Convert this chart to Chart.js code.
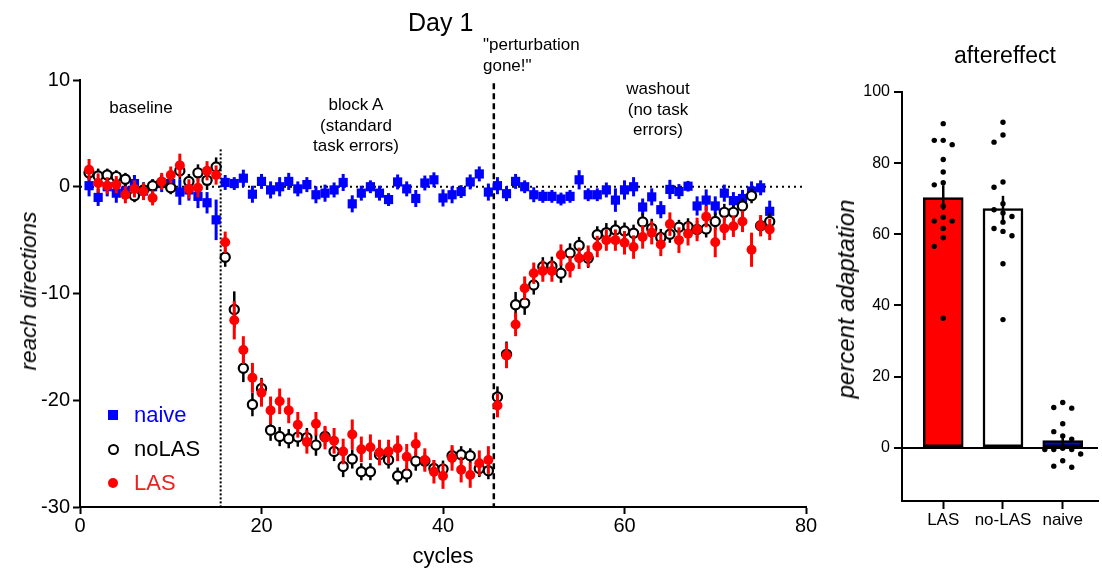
<!DOCTYPE html>
<html>
<head>
<meta charset="utf-8">
<script src="https://cdn.jsdelivr.net/npm/chart.js@4.4.1/dist/chart.umd.min.js"></script>
<style>
  html, body { margin: 0; padding: 0; background: #fff; }
  body { width: 1102px; height: 571px; position: relative; overflow: hidden;
         font-family: "Liberation Sans", Arial, sans-serif; color: #000; }
  canvas { position: absolute; top: 0; }
  #left { left: 0; }
  #right { left: 840px; }
  .t { position: absolute; white-space: nowrap; }
  .note { font-size: 17px; line-height: 20.5px; text-align: center; transform: translateX(-50%); }
  .ytitle { font-size: 22.5px; font-style: italic; transform: translate(-50%, -50%) rotate(-90deg); }
  .leg { font-size: 22px; transform: translateY(-50%); }
  .mk { position: absolute; box-sizing: border-box; }
</style>
</head>
<body>
<canvas id="left" width="830" height="571"></canvas>
<canvas id="right" width="262" height="571"></canvas>

<div class="t" style="left:408px; top:8px; font-size:25px;">Day 1</div>
<div class="t note" style="left:141px; top:98px;">baseline</div>
<div class="t note" style="left:356px; top:95px;">block A<br>(standard<br>task errors)</div>
<div class="t note" style="left:483px; top:35px; text-align:left; transform:none;">"perturbation<br>gone!"</div>
<div class="t note" style="left:658px; top:79px;">washout<br>(no task<br>errors)</div>

<div class="mk" style="left:108px; top:410px; width:10px; height:10px; background:#0000ff;"></div>
<div class="t leg" style="left:134px; top:415px; color:#0000ff;">naive</div>
<div class="mk" style="left:108px; top:444px; width:11px; height:11px; border:2.2px solid #000; border-radius:50%;"></div>
<div class="t leg" style="left:134px; top:449px;">noLAS</div>
<div class="mk" style="left:108px; top:478px; width:10px; height:10px; background:#ff0000; border-radius:50%;"></div>
<div class="t leg" style="left:134px; top:483px; color:#f02020;">LAS</div>

<div class="t ytitle" style="left:29px; top:291px;">reach directions</div>
<div class="t" style="left:443px; top:556px; font-size:22px; transform:translate(-50%,-50%);">cycles</div>
<div class="t" style="left:1005px; top:55px; font-size:23px; transform:translate(-50%,-50%);">aftereffect</div>
<div class="t ytitle" style="left:846px; top:299px; font-size:24px;">percent adaptation</div>

<script>
// ---- left panel: reach direction per cycle (mean ± sem) ----
const CYCLES = [
   1,  2,  3,  4,  5,  6,  7,  8,  9, 10, 11, 12, 13, 14, 15,
  16, 17, 18, 19, 20, 21, 22, 23, 24, 25, 26, 27, 28, 29, 30,
  31, 32, 33, 34, 35, 36, 37, 38, 39, 40, 41, 42, 43, 44, 45,
  46, 47, 48, 49, 50, 51, 52, 53, 54, 55, 56, 57, 58, 59, 60,
  61, 62, 63, 64, 65, 66, 67, 68, 69, 70, 71, 72, 73, 74, 75, 76];

const NAIVE = [
  0.1, -1.0, 0.0, -0.6, -0.4, 0.3, -0.4, 0.0, 0.3, 0.3, -0.5, -0.3, -0.9, -1.5, -3.1,
  0.4, 0.3, 0.8, -0.7, 0.5, -0.3, 0.0, 0.5, -0.2, 0.2, -0.75, -0.6, -0.3, 0.4, -1.6,
  -0.6, 0.0, -0.6, -1.2, 0.45, -0.2, -1.1, 0.35, 0.65, -1.05, -0.75, -0.45, 0.45, 1.2, -0.5,
  0.1, -0.65, 0.5, 0.0, -0.75, -0.9, -0.9, -1.15, -0.9, 0.65, -0.75, -0.75, -0.3, -1.25, -0.3,
  0.0, -1.9, -0.95, -2.15, -0.25, -0.45, 0.05, -1.8, -1.25, -1.8, -0.6, -1.3, -1.1, -0.4, -0.1, -2.3];
const NAIVE_ERR = [
  1.0, 0.8, 0.9, 0.9, 0.8, 0.8, 0.8, 0.7, 0.8, 0.8, 1.2, 1.0, 1.1, 1.0, 1.9,
  0.7, 0.6, 0.8, 0.8, 0.7, 0.8, 0.9, 0.8, 0.7, 0.7, 0.8, 0.8, 0.7, 0.8, 0.8,
  0.7, 0.6, 0.7, 0.6, 0.7, 0.7, 0.8, 0.7, 0.7, 0.8, 0.8, 0.6, 0.7, 0.7, 0.8,
  0.8, 0.7, 0.7, 0.6, 0.7, 0.6, 0.6, 0.6, 0.6, 0.9, 0.6, 0.6, 0.7, 1.1, 0.9,
  0.9, 0.8, 0.8, 0.8, 0.9, 0.7, 0.5, 0.9, 1.0, 0.9, 0.8, 0.8, 0.8, 0.9, 0.7, 1.0];

const NOLAS = [
  1.3, 1.0, 1.1, 0.95, 0.7, -0.85, -0.3, 0.1, 0.4, -0.1, 1.5, 0.5, 1.3, 0.6, 1.85,
  -6.6, -11.5, -17.0, -20.4, -18.9, -22.8, -23.4, -23.6, -23.45, -23.5, -24.2, -23.4, -24.8, -26.2, -25.5,
  -26.7, -26.7, -25.1, -25.6, -27.1, -26.9, -25.7, -25.7, -26.4, -26.45, -25.2, -25.1, -25.2, -26.4, -26.6,
  -19.7, -15.7, -11.05, -10.9, -9.2, -7.5, -7.45, -8.1, -6.2, -5.5, -6.7, -4.5, -4.3, -4.05, -4.15,
  -4.35, -3.3, -3.9, -4.75, -4.45, -3.8, -3.75, -4.0, -3.95, -3.25, -2.4, -2.4, -1.8, -0.85, -3.65, -3.25];
const NOLAS_ERR = [
  0.7, 0.7, 0.6, 0.6, 0.6, 0.6, 0.7, 0.6, 0.7, 0.6, 0.8, 0.7, 0.8, 0.9, 0.9,
  0.9, 1.7, 1.3, 1.1, 1.0, 1.0, 0.9, 0.9, 0.9, 0.9, 1.0, 0.9, 0.9, 1.0, 0.9,
  0.8, 0.8, 0.9, 0.8, 0.8, 0.8, 0.9, 0.8, 0.8, 0.8, 0.8, 0.8, 0.7, 0.8, 0.8,
  1.0, 1.2, 1.2, 1.1, 0.9, 0.9, 0.9, 0.9, 0.9, 0.8, 0.9, 0.8, 0.9, 0.9, 0.8,
  0.8, 0.8, 0.9, 0.8, 0.8, 0.7, 0.8, 0.8, 0.8, 0.8, 0.8, 0.7, 0.7, 0.7, 0.8, 0.8];

const LAS = [
  1.6, 0.35, 0.1, 0.2, -0.75, -0.2, -0.45, -1.05, 0.5, 1.1, 2.0, -0.2, -0.1, 1.5, 1.1,
  -5.2, -12.5, -15.3, -17.9, -19.3, -20.95, -20.1, -20.95, -22.3, -23.9, -22.2, -23.5, -23.8, -24.8, -23.2,
  -24.6, -24.4, -24.9, -24.8, -24.5, -25.3, -24.1, -25.6, -26.7, -27.1, -25.4, -26.5, -27.0, -25.9, -25.6,
  -20.5, -15.8, -12.9, -9.5, -8.1, -7.9, -7.9, -6.4, -7.5, -6.7, -6.5, -5.6, -5.0, -5.0, -5.25,
  -5.65, -4.7, -4.3, -5.4, -3.5, -5.0, -4.4, -4.0, -2.8, -5.2, -3.9, -3.7, -3.25, -5.9, -3.65, -4.0];
const LAS_ERR = [
  1.0, 0.9, 0.8, 0.8, 0.8, 0.8, 0.8, 0.7, 0.8, 0.8, 1.1, 0.9, 0.9, 0.9, 0.9,
  1.0, 1.8, 1.3, 1.4, 1.3, 1.3, 1.2, 1.2, 1.2, 1.1, 1.1, 1.1, 1.2, 1.2, 1.4,
  1.2, 1.2, 1.2, 1.1, 1.2, 1.2, 1.1, 1.1, 1.1, 1.2, 1.2, 1.2, 1.2, 1.2, 1.3,
  1.1, 1.2, 1.1, 1.1, 1.0, 1.0, 1.0, 1.0, 1.0, 1.0, 1.0, 1.0, 1.0, 1.0, 1.1,
  1.1, 1.1, 1.1, 1.1, 1.1, 1.2, 1.1, 1.1, 1.0, 1.4, 1.1, 1.0, 1.0, 1.6, 1.0, 1.0];

const X_TICKS = [0, 20, 40, 60, 80];
const Y_TICKS = [-30, -20, -10, 0, 10];
const BLOCK_A_START = 15.5;   // dotted line
const WASHOUT_START = 45.6;   // dashed line

// ---- right panel: aftereffect ----
const GROUPS = ['LAS', 'no-LAS', 'naive'];
const MEANS = [70.3, 67.2, 2.0];
const SEMS = [3.5, 3.6, 1.5];
const LAS_SUBJ = [91.1, 86.4, 85.2, 86.4, 81.0, 77.5, 74.5, 73.9, 67.9, 64.8, 63.7, 63.7, 61.6, 59.0, 56.6, 36.4];
const NOLAS_SUBJ = [91.5, 87.9, 85.9, 74.7, 73.2, 68.6, 66.9, 66.0, 65.0, 63.4, 61.6, 60.8, 59.6, 51.7, 36.0];
const NAIVE_SUBJ = [12.7, 11.1, 11.3, 6.7, 4.5, 3.3, 2.4, -0.2, -0.5, -0.5, -0.5, -1.8, -3.7, -5.2, -5.5];
const Y_TICKS_R = [0, 20, 40, 60, 80, 100];

const FONT = '"Liberation Sans", Arial, sans-serif';
const BAR_FILLS = ['#ff0000', '#ffffff', '#0000ff'];

const pts = (vals) => vals.map((v, i) => ({ x: CYCLES[i], y: v }));

// vertical error bars, drawn with the dataset's own scales
const errorBars = {
  id: 'errorBars',
  draw(chart, idx) {
    const ds = chart.data.datasets[idx];
    if (!ds.errors) return;
    const xs = chart.scales.x, ys = chart.scales.y, ctx = chart.ctx;
    ctx.save();
    ctx.strokeStyle = ds.errorColor;
    ctx.lineWidth = ds.errorWidth;
    ds.data.forEach((p, i) => {
      const e = ds.errors[i];
      const px = xs.getPixelForValue(p.x);
      ctx.beginPath();
      ctx.moveTo(px, ys.getPixelForValue(p.y - e));
      ctx.lineTo(px, ys.getPixelForValue(p.y + e));
      ctx.stroke();
    });
    ctx.restore();
  },
  beforeDatasetDraw(chart, args) {
    if (!chart.data.datasets[args.index].errorsOnTop) this.draw(chart, args.index);
  },
  afterDatasetDraw(chart, args) {
    if (chart.data.datasets[args.index].errorsOnTop) this.draw(chart, args.index);
  },
};

// zero line + phase boundaries
const refLines = {
  id: 'refLines',
  beforeDatasetsDraw(chart) {
    const { ctx, scales: { x, y }, chartArea: a } = chart;
    ctx.save();
    ctx.strokeStyle = '#000';
    ctx.lineWidth = 2;
    ctx.setLineDash([2, 4]);
    ctx.beginPath();
    ctx.moveTo(a.left, y.getPixelForValue(0));
    ctx.lineTo(a.right, y.getPixelForValue(0));
    ctx.stroke();

    ctx.setLineDash([2, 2]);
    ctx.beginPath();
    ctx.moveTo(x.getPixelForValue(BLOCK_A_START), y.getPixelForValue(3.5));
    ctx.lineTo(x.getPixelForValue(BLOCK_A_START), a.bottom);
    ctx.stroke();

    ctx.lineWidth = 2.5;
    ctx.setLineDash([6, 4]);
    ctx.beginPath();
    ctx.moveTo(x.getPixelForValue(WASHOUT_START), y.getPixelForValue(9.7));
    ctx.lineTo(x.getPixelForValue(WASHOUT_START), a.bottom);
    ctx.stroke();
    ctx.restore();
  },
};

// spread subject dots sideways when they would overlap
function swarm(values, center) {
  const placed = [];
  const STEP = 0.15, GAP = 2.5;
  return values.slice().sort((a, b) => b - a).map((v) => {
    for (const k of [0, -1, 1, -2, 2, -3, 3]) {
      const off = k * STEP;
      if (!placed.some((p) => p.off === off && Math.abs(p.v - v) < GAP)) {
        placed.push({ v, off });
        return { x: center + off, y: v };
      }
    }
    return { x: center, y: v };
  });
}

const axisTicks = (size, pad) => ({ color: '#000', font: { size, family: FONT }, padding: pad, maxRotation: 0 });
const axisGrid = (len) => ({ drawOnChartArea: false, offset: false, color: '#000', tickColor: '#000', tickWidth: 2, tickLength: len });

new Chart(document.getElementById('left'), {
  type: 'scatter',
  data: {
    datasets: [
      { label: 'LAS', data: pts(LAS), errors: LAS_ERR, errorColor: '#ff0000', errorWidth: 3,
        pointStyle: 'circle', pointRadius: 5, pointBackgroundColor: '#ff0000', pointBorderWidth: 0 },
      { label: 'noLAS', data: pts(NOLAS), errors: NOLAS_ERR, errorColor: '#000', errorWidth: 2.5,
        pointStyle: 'circle', pointRadius: 4.6, pointBackgroundColor: '#fff',
        pointBorderColor: '#000', pointBorderWidth: 2.2 },
      { label: 'naive', data: pts(NAIVE), errors: NAIVE_ERR, errorColor: '#0000ff', errorWidth: 3,
        pointStyle: 'rect', pointRadius: 6.5, pointBackgroundColor: '#0000ff', pointBorderWidth: 0 },
    ],
  },
  options: {
    responsive: false,
    animation: false,
    layout: { padding: { left: 0, top: 80, right: 24, bottom: 0 } },
    plugins: { legend: { display: false }, tooltip: { enabled: false } },
    scales: {
      x: {
        type: 'linear', min: 0, max: 80,
        afterBuildTicks: (s) => { s.ticks = X_TICKS.map((v) => ({ value: v })); },
        afterFit: (s) => { s.height = 64; },
        grid: axisGrid(7),
        border: { color: '#000', width: 2 },
        ticks: axisTicks(20, 0),
      },
      y: {
        type: 'linear', min: -30, max: 10,
        afterBuildTicks: (s) => { s.ticks = Y_TICKS.map((v) => ({ value: v })); },
        afterFit: (s) => { s.width = 80; },
        grid: axisGrid(7),
        border: { color: '#000', width: 2 },
        ticks: axisTicks(20, 3),
      },
    },
  },
  plugins: [errorBars, refLines],
});

new Chart(document.getElementById('right'), {
  type: 'bar',
  data: {
    datasets: [
      { type: 'scatter', label: 'subjects',
        data: [].concat(swarm(LAS_SUBJ, 1), swarm(NOLAS_SUBJ, 2), swarm(NAIVE_SUBJ, 3)),
        pointRadius: 2.7, pointBackgroundColor: '#000', pointBorderWidth: 0 },
      { type: 'bar', label: 'mean',
        data: GROUPS.map((g, i) => ({ x: i + 1, y: MEANS[i] })),
        errors: SEMS, errorColor: '#000', errorWidth: 2.5, errorsOnTop: true,
        backgroundColor: BAR_FILLS, borderColor: '#000', borderWidth: 2.5,
        borderSkipped: false, barThickness: 40 },
    ],
  },
  options: {
    responsive: false,
    animation: false,
    layout: { padding: { left: 0, top: 92, right: 0, bottom: 0 } },
    plugins: { legend: { display: false }, tooltip: { enabled: false } },
    scales: {
      x: {
        type: 'linear', min: 0.31, max: 3.59, offset: false,
        afterBuildTicks: (s) => { s.ticks = GROUPS.map((g, i) => ({ value: i + 1 })); },
        afterFit: (s) => { s.height = 70; },
        grid: axisGrid(8),
        border: { color: '#000', width: 2 },
        ticks: Object.assign(axisTicks(17, 1), { callback: (v) => GROUPS[v - 1] }),
      },
      y: {
        type: 'linear', min: -15, max: 100,
        afterBuildTicks: (s) => { s.ticks = Y_TICKS_R.map((v) => ({ value: v })); },
        afterFit: (s) => { s.width = 62; },
        grid: {
          drawOnChartArea: true, tickColor: '#000', tickWidth: 2, tickLength: 8, lineWidth: 2,
          color: (c) => (c.tick && c.tick.value === 0 ? '#000' : 'rgba(0,0,0,0)'),
        },
        border: { color: '#000', width: 2 },
        ticks: axisTicks(16, 4),
      },
    },
  },
  plugins: [errorBars],
});
</script>
</body>
</html>
